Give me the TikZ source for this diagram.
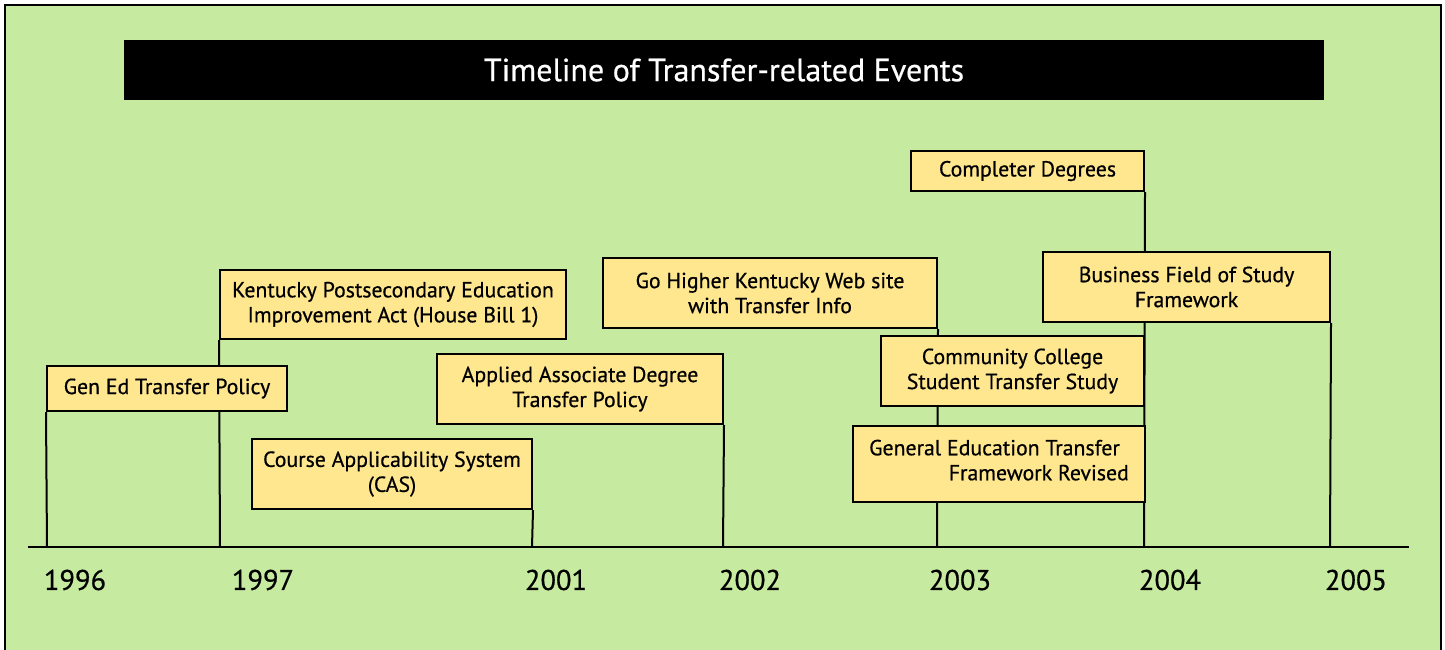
\documentclass[tikz,border=0pt]{standalone}
\usepackage{fontspec}
\setmainfont{PT Sans}[FakeBold=0.6]
\definecolor{bggreen}{RGB}{198,234,160}
\definecolor{boxyellow}{RGB}{255,231,143}
\pgfdeclarelayer{bottom}
\pgfdeclarelayer{links}
\pgfsetlayers{bottom,links,main}
\begin{document}
\begin{tikzpicture}[x=1pt,y=-1pt,
  event/.style={draw=black, line width=2pt, fill=boxyellow, inner sep=0pt, align=center,
    font=\fontsize{21.8}{25}\selectfont},
  link/.style={line width=2pt},
  year/.style={font=\fontsize{28.5}{32}\selectfont},
]
\useasboundingbox (0,0) rectangle (1445,649);
\begin{pgfonlayer}{bottom}
\fill[white] (0,0) rectangle (1445,649);
\fill[bggreen] (5,5) rectangle (1441,660);
\draw[line width=2.5pt] (5,660) -- (5,5) -- (1441,5) -- (1441,660);
\end{pgfonlayer}

% title
\node[fill=black, text=white, minimum width=1200, minimum height=60, inner sep=0pt,
  font=\fontsize{32}{36}\selectfont] (title) at (724,70) {Timeline of Transfer-related Events};

% axis
\coordinate (axL) at (28,547);
\coordinate (axR) at (1409,547);
\draw[link] (axL) -- (axR);
\coordinate (t1996) at (47,547);
\coordinate (t1997) at (220,547);
\coordinate (t2001) at (532,547);
\coordinate (t2002) at (723,547);
\coordinate (t2003) at (937,547);
\coordinate (t2004) at (1144,547);
\coordinate (t2005) at (1330,547);

% events
\node[event, minimum width=240, minimum height=45] (gened) at (167,388.5) {Gen Ed Transfer Policy};
\node[event, minimum width=346, minimum height=69] (kentucky) at (393,304.5) {Kentucky Postsecondary Education\\Improvement Act (House Bill 1)};
\node[event, minimum width=280, minimum height=70] (cas) at (392,474) {Course Applicability System\\(CAS)};
\node[event, minimum width=286, minimum height=70] (applied) at (580,389) {Applied Associate Degree\\Transfer Policy};
\node[event, minimum width=334, minimum height=70] (gohigher) at (770,293) {Go Higher Kentucky Web site\\with Transfer Info};
\node[event, minimum width=233, minimum height=40] (completer) at (1027.5,171) {Completer Degrees};
\node[event, minimum width=287, minimum height=70] (business) at (1186.5,287) {Business Field of Study\\Framework};
\node[event, minimum width=263, minimum height=70] (community) at (1012.5,371) {Community College\\Student Transfer Study};
\node[event, minimum width=292, minimum height=76, align=right] (general) at (999,464) {General Education Transfer\hspace*{9pt}\\Framework Revised\rule[-8pt]{0pt}{1pt}};

% links
\begin{pgfonlayer}{links}
\draw[link] (gened.south west) -- (t1996);
\draw[link] (kentucky.south west) -- (t1997);
\draw[link] (cas.south east) -- (t2001);
\draw[link] (applied.south east) -- (t2002);
\draw[link] (gohigher.south east) -- (t2003);
\draw[link] (completer.south east) -- (t2004);
\draw[link] (business.south east) -- (t2005);
\end{pgfonlayer}

% years
\node[year] (y1996) at (75,580) {1996};
\node[year] (y1997) at (263,580) {1997};
\node[year] (y2001) at (556,580) {2001};
\node[year] (y2002) at (750,580) {2002};
\node[year] (y2003) at (960,580) {2003};
\node[year] (y2004) at (1170,580) {2004};
\node[year] (y2005) at (1356,580) {2005};
\end{tikzpicture}
\end{document}
